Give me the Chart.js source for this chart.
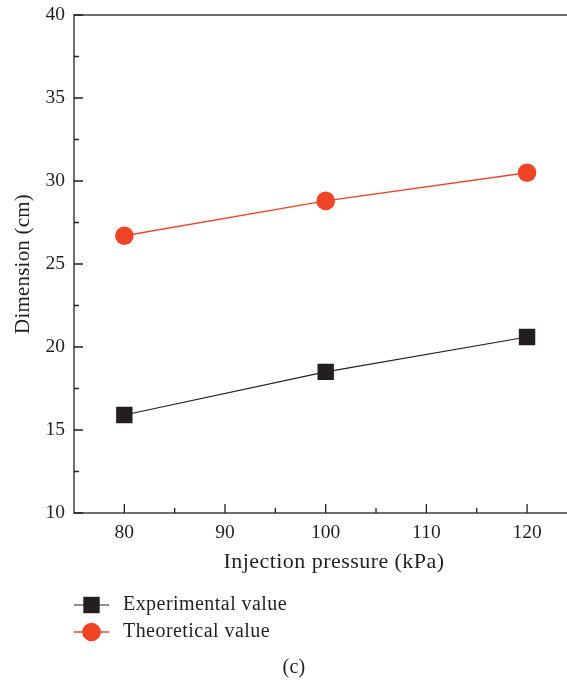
<!DOCTYPE html>
<html>
<head>
<meta charset="utf-8">
<script src="https://cdn.jsdelivr.net/npm/chart.js@4/dist/chart.umd.min.js"></script>
<style>
  html, body { margin: 0; padding: 0; background: #fff; overflow: hidden; }
  canvas { display: block; }
</style>
</head>
<body>
<canvas id="myChart" width="589" height="680"></canvas>
<script>
var pressure = [80, 100, 120];
var experimental = [15.9, 18.5, 20.6];
var theoretical = [26.7, 28.8, 30.5];
var xTicks = [80, 90, 100, 110, 120];
var xMinor = [85, 95, 105, 115];
var yTicks = [10, 15, 20, 25, 30, 35, 40];
var yMinor = [12.5, 17.5, 22.5, 27.5, 32.5, 37.5];

var ink = '#231f20';
var red = '#ef4526';
var font = '"Liberation Serif", "DejaVu Serif", serif';

function pts(ys) {
  return pressure.map(function (x, i) { return {x: x, y: ys[i]}; });
}

// frame, inward ticks, titles, legend
var decor = {
  id: 'decor',
  afterDraw: function (chart) {
    var ctx = chart.ctx;
    var a = chart.chartArea;
    var xs = chart.scales.x, ys = chart.scales.y;
    ctx.save();
    ctx.strokeStyle = ink;
    ctx.lineWidth = 1.3;
    ctx.strokeRect(a.left, a.top, a.right - a.left, a.bottom - a.top);
    ctx.beginPath();
    xTicks.forEach(function (v) {
      var p = xs.getPixelForValue(v);
      ctx.moveTo(p, a.bottom); ctx.lineTo(p, a.bottom - 9);
    });
    xMinor.forEach(function (v) {
      var p = xs.getPixelForValue(v);
      ctx.moveTo(p, a.bottom); ctx.lineTo(p, a.bottom - 5);
    });
    yTicks.forEach(function (v) {
      var p = ys.getPixelForValue(v);
      ctx.moveTo(a.left, p); ctx.lineTo(a.left + 9, p);
    });
    yMinor.forEach(function (v) {
      var p = ys.getPixelForValue(v);
      ctx.moveTo(a.left, p); ctx.lineTo(a.left + 5, p);
    });
    ctx.stroke();

    ctx.fillStyle = ink;
    ctx.textAlign = 'center';
    ctx.textBaseline = 'middle';
    ctx.font = '22px ' + font;
    ctx.letterSpacing = '0.45px';
    ctx.fillText('Injection pressure (kPa)', 334, 562);
    ctx.save();
    ctx.font = '21px ' + font;
    ctx.letterSpacing = '0.2px';
    ctx.translate(23, 264);
    ctx.rotate(-Math.PI / 2);
    ctx.fillText('Dimension (cm)', 0, 0);
    ctx.restore();

    // legend
    ctx.font = '20px ' + font;
    ctx.letterSpacing = '0.45px';
    chart.data.datasets.forEach(function (ds, i) {
      var y = 605 + i * 27;
      ctx.strokeStyle = ds.borderColor;
      ctx.lineWidth = ds.borderWidth;
      ctx.beginPath();
      ctx.moveTo(74, y); ctx.lineTo(109, y);
      ctx.stroke();
      ctx.fillStyle = ds.pointBackgroundColor;
      Chart.helpers.drawPoint(ctx, {
        pointStyle: ds.pointStyle, radius: ds.pointRadius, borderWidth: 0, rotation: 0
      }, 91.5, y);
      ctx.fillStyle = ink;
      ctx.textAlign = 'left';
      ctx.fillText(ds.label, 123, y);
    });
    ctx.textAlign = 'center';
    ctx.letterSpacing = '0.3px';
    ctx.fillText('(c)', 294, 668);
    ctx.restore();
  }
};

var ctx = document.getElementById('myChart').getContext('2d');
var myChart = new Chart(ctx, {
  type: 'line',
  data: {
    datasets: [{
      label: 'Experimental value',
      data: pts(experimental),
      borderColor: ink,
      borderWidth: 1.1,
      pointStyle: 'rect',
      pointRadius: 11.6,
      pointBackgroundColor: ink,
      pointBorderWidth: 0
    }, {
      label: 'Theoretical value',
      data: pts(theoretical),
      borderColor: red,
      borderWidth: 1.4,
      pointStyle: 'circle',
      pointRadius: 9.3,
      pointBackgroundColor: red,
      pointBorderWidth: 0
    }]
  },
  options: {
    responsive: false,
    animation: false,
    layout: { padding: { top: 15, right: 3, left: 0, bottom: 0 } },
    plugins: { legend: { display: false }, tooltip: { enabled: false } },
    scales: {
      x: {
        type: 'linear',
        min: 75, max: 125,
        afterBuildTicks: function (s) { s.ticks = xTicks.map(function (v) { return {value: v}; }); },
        afterFit: function (s) { s.height = 167; s.paddingLeft = 0; s.paddingRight = 0; },
        grid: { display: false, drawTicks: false },
        border: { display: false },
        ticks: { color: ink, padding: 8, font: { family: font, size: 19.5 } }
      },
      y: {
        min: 10, max: 40,
        afterBuildTicks: function (s) { s.ticks = yTicks.map(function (v) { return {value: v}; }); },
        afterFit: function (s) { s.width = 74; s.paddingTop = 0; s.paddingBottom = 0; },
        grid: { display: false, drawTicks: false },
        border: { display: false },
        ticks: { color: ink, padding: 9, font: { family: font, size: 19.5 } }
      }
    }
  },
  plugins: [decor]
});
</script>
</body>
</html>
